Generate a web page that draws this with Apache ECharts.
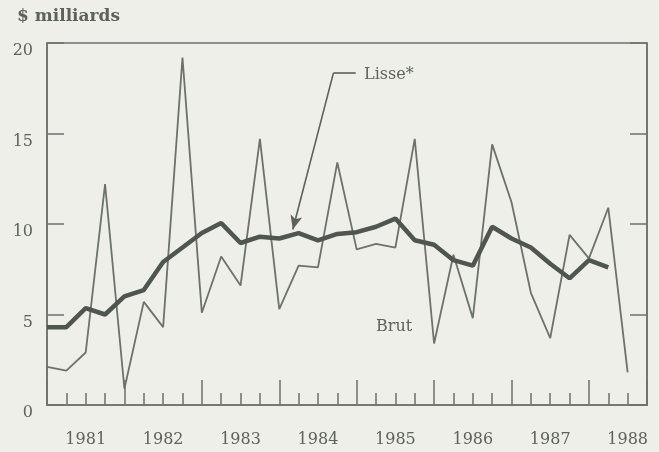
<!DOCTYPE html>
<html>
<head>
<meta charset="utf-8">
<script src="https://cdn.jsdelivr.net/npm/echarts@6/dist/echarts.min.js"></script>
<style>
  html, body { margin: 0; padding: 0; background: #efefe9; }
  #chart { width: 659px; height: 452px; }
</style>
</head>
<body>
<div id="chart"></div>
<script>
// trimestres depuis 1981 T1 (0 = début 1981)
const years = ['1981', '1982', '1983', '1984', '1985', '1986', '1987', '1988'];
const yTicks = [0, 5, 10, 15, 20];

// série brute, un point par trimestre
const brut = [2.1, 1.9, 2.9, 12.2, 0.9, 5.7, 4.3, 19.2, 5.1, 8.2, 6.6, 14.7, 5.3, 7.7, 7.6, 13.4,
  8.6, 8.9, 8.7, 14.7, 3.4, 8.3, 4.8, 14.4, 11.2, 6.2, 3.7, 9.4, 8.1, 10.9, 1.8];
// série lissée
const lisse = [4.3, 4.3, 5.35, 5.0, 6.0, 6.35, 7.9, 8.7, 9.5, 10.05, 8.95, 9.3, 9.2, 9.5, 9.1, 9.45,
  9.55, 9.85, 10.3, 9.1, 8.85, 8.0, 7.7, 9.85, 9.2, 8.7, 7.8, 7.0, 8.0, 7.6];

const ink = '#5d625b';
const frame = '#6d716b';
const font = 'DejaVu Serif';

const chart = echarts.init(document.getElementById('chart'));

const option = {
  backgroundColor: '#efefe9',
  animation: false,
  grid: {
    left: 47, right: 12, top: 43, bottom: 47,
    show: true,
    borderColor: frame,
    borderWidth: 1.5,
    backgroundColor: 'transparent'
  },
  xAxis: [{
    type: 'value',
    min: 0, max: 31, interval: 1,
    splitLine: { show: false },
    axisLine: { show: true, onZero: false, lineStyle: { color: frame, width: 1.5 } },
    axisTick: { show: true, inside: true, length: 12, lineStyle: { color: frame, width: 1.5 } },
    axisLabel: {
      margin: 27,
      color: ink,
      fontFamily: font,
      fontSize: 16,
      formatter: v => (v % 4 === 2 ? years[(v - 2) / 4] : '')
    }
  }, {
    // longues graduations aux changements d'année
    type: 'value',
    position: 'bottom',
    min: 0, max: 31, interval: 4,
    splitLine: { show: false },
    axisLine: { show: false, onZero: false },
    axisTick: { show: true, inside: true, length: 25, lineStyle: { color: frame, width: 1.5 } },
    axisLabel: { show: false }
  }],
  yAxis: [{
    type: 'value',
    min: 0, max: 20, interval: 5,
    splitLine: { show: false },
    axisLine: { show: true, onZero: false, lineStyle: { color: frame, width: 1.5 } },
    axisTick: { show: true, inside: true, length: 17, lineStyle: { color: frame, width: 1.5 } },
    axisLabel: {
      margin: 14,
      color: ink,
      fontFamily: font,
      fontSize: 16,
      verticalAlign: 'top',
      lineHeight: 16,
      formatter: v => (yTicks.includes(v) ? String(v) : '')
    }
  }, {
    type: 'value',
    position: 'right',
    min: 0, max: 20, interval: 5,
    splitLine: { show: false },
    axisLine: { show: true, onZero: false, lineStyle: { color: frame, width: 1.5 } },
    axisTick: { show: true, inside: true, length: 17, lineStyle: { color: frame, width: 1.5 } },
    axisLabel: { show: false }
  }],
  series: [{
    name: 'Brut',
    type: 'line',
    data: brut.map((v, i) => [i, v]),
    showSymbol: false,
    lineStyle: { color: '#6c726a', width: 1.8 },
    z: 2
  }, {
    name: 'Lisse*',
    type: 'line',
    data: lisse.map((v, i) => [i, v]),
    showSymbol: false,
    lineStyle: { color: '#4e564f', width: 4.5 },
    z: 3,
    markLine: {
      silent: true,
      animation: false,
      label: { show: false },
      lineStyle: { color: '#5a6259', width: 1.6, type: 'solid' },
      data: [
        [{ coord: [15.95, 18.35], symbol: 'none' }, { coord: [14.8, 18.35], symbol: 'none' }],
        [{ coord: [14.8, 18.35], symbol: 'none' }, { coord: [12.7, 9.7], symbol: 'arrow', symbolSize: [9, 14] }]
      ]
    }
  }],
  graphic: [
    {
      type: 'text', left: 17, top: 8,
      style: { text: '$ milliards', font: '600 17px "DejaVu Serif"', fill: ink }
    },
    {
      type: 'text', left: 364, top: 67,
      style: { text: 'Lisse*', font: '16px "DejaVu Serif"', fill: ink }
    },
    {
      type: 'text', left: 376, top: 319,
      style: { text: 'Brut', font: '16px "DejaVu Serif"', fill: ink }
    }
  ]
};

chart.setOption(option);
</script>
</body>
</html>
